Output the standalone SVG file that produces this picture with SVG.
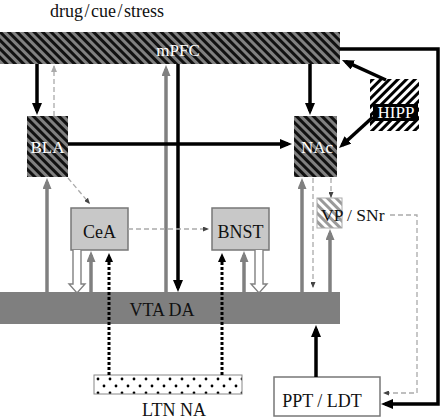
<svg xmlns="http://www.w3.org/2000/svg" width="444" height="420" viewBox="0 0 444 420">
<style>
text{font-family:"Liberation Serif","Times New Roman",serif;font-size:18px;fill:#111}
.w{fill:#fff}
.c{text-anchor:middle}
.bk{stroke:#000;stroke-width:3.5;fill:none}
.gr{stroke:#808080;stroke-width:3.5;fill:none}
.ds{stroke:#aaa;stroke-width:1.3;fill:none;stroke-dasharray:5 3}
.dt{stroke:#000;stroke-width:3;fill:none;stroke-dasharray:3 2}
.hol{fill:#fff;stroke:#808080;stroke-width:1.4}
</style>
<defs>
<pattern id="hatchD" width="6" height="6" patternUnits="userSpaceOnUse" patternTransform="rotate(-45)">
<rect width="6" height="6" fill="#808080"/><rect width="3" height="6" fill="#111"/>
</pattern>
<pattern id="hatchH" width="6" height="6" patternUnits="userSpaceOnUse" patternTransform="rotate(45)">
<rect width="6" height="6" fill="#fff"/><rect width="3" height="6" fill="#000"/>
</pattern>
<pattern id="hatchV" width="6" height="6" patternUnits="userSpaceOnUse" patternTransform="rotate(-45)">
<rect width="6" height="6" fill="#fff"/><rect width="3" height="6" fill="#9a9a9a"/>
</pattern>
<pattern id="dots" width="12" height="14" patternUnits="userSpaceOnUse" x="94" y="375">
<rect width="12" height="14" fill="#fff"/><circle cx="4" cy="4" r="1.4" fill="#000"/><circle cx="10" cy="11" r="1.4" fill="#000"/>
</pattern>
<marker id="ab" markerUnits="userSpaceOnUse" markerWidth="12" markerHeight="10" refX="8" refY="5" orient="auto"><path d="M0,0 L12,5 L0,10 z" fill="#000"/></marker>
<marker id="ag" markerUnits="userSpaceOnUse" markerWidth="11" markerHeight="9" refX="7" refY="4.5" orient="auto"><path d="M0,0 L11,4.5 L0,9 z" fill="#808080"/></marker>
<marker id="ad" markerUnits="userSpaceOnUse" markerWidth="9" markerHeight="8" refX="5" refY="4" orient="auto"><path d="M0,0 L9,4 L0,8 z" fill="#000"/></marker>
<marker id="as" markerUnits="userSpaceOnUse" markerWidth="6" markerHeight="5" refX="5" refY="2.5" orient="auto"><path d="M0,0 L6,2.5 L0,5 z" fill="#444"/></marker>
<marker id="al" markerUnits="userSpaceOnUse" markerWidth="7" markerHeight="6" refX="6" refY="3" orient="auto"><path d="M0,0 L7,3 L0,6 z" fill="#aaa"/></marker>
</defs>
<rect width="444" height="420" fill="#fff"/>
<text x="50" y="17" word-spacing="-3">drug / cue / stress</text>
<g id="mPFC"><rect x="0" y="32" width="340" height="32" fill="url(#hatchD)"/><text class="w c" x="178" y="56" style="font-size:17px">mPFC</text></g>
<g id="BLA"><rect x="27" y="116" width="41" height="61" fill="url(#hatchD)"/><text class="w c" x="47.5" y="153" style="font-size:17px">BLA</text></g>
<g id="NAc"><rect x="294" y="116" width="43" height="61" fill="url(#hatchD)"/><text class="w c" x="317" y="153" style="font-size:17px">NAc</text></g>
<g id="HIPP"><rect x="370" y="79" width="49" height="52" fill="url(#hatchH)"/><rect x="373" y="104" width="45" height="17" fill="#000"/><text class="w c" x="396" y="118" style="font-size:17px">HIPP</text></g>
<g id="CeA"><rect x="71" y="208" width="57" height="42" fill="#c8c8c8" stroke="#777" stroke-width="1.5"/><text class="c" x="99.5" y="238">CeA</text></g>
<g id="BNST"><rect x="212" y="208" width="57" height="42" fill="#c8c8c8" stroke="#777" stroke-width="1.5"/><text class="c" x="240.5" y="238">BNST</text></g>
<g id="VPSNr"><rect x="317" y="198" width="25" height="30" fill="url(#hatchV)" stroke="#aaa" stroke-width="1"/><text x="321" y="221" style="font-size:17.5px">VP / SNr</text></g>
<g id="VTA"><rect x="0" y="292" width="340" height="32" fill="#7f7f7f"/><text class="c" x="162" y="316">VTA DA</text></g>
<g id="LTN"><rect x="94" y="375" width="148" height="19" fill="url(#dots)" stroke="#888" stroke-width="1"/><text class="c" x="174" y="416">LTN NA</text></g>
<g id="PPT"><rect x="274" y="377" width="106" height="39" fill="#fff" stroke="#777" stroke-width="1.5"/><text class="c" x="322" y="407">PPT / LDT</text></g>
<g id="connectors">
<path class="bk" d="M37,64 V111" marker-end="url(#ab)"/>
<path class="ds" d="M54,116 V66" marker-end="url(#al)"/>
<path class="bk" d="M310,64 V111" marker-end="url(#ab)"/>
<path class="gr" d="M166,292 V69" marker-end="url(#ag)"/>
<path class="bk" d="M178,64 V288" marker-end="url(#ab)"/>
<path class="bk" d="M68,144 H288" marker-end="url(#ab)"/>
<path class="bk" d="M386,80 L345.6,61.7" marker-end="url(#ab)"/>
<path class="bk" d="M373,117 L342,145.3" marker-end="url(#ab)"/>
<path class="bk" d="M340,49 H438 V404 H385" marker-end="url(#ab)"/>
<path class="ds" d="M390,215 H417 V393 H384" marker-end="url(#as)"/>
<path class="gr" d="M47,292 V182" marker-end="url(#ag)"/>
<path class="ds" d="M68,178 L89.3,203.2" marker-end="url(#as)"/>
<path class="ds" d="M128,229 H208" marker-end="url(#as)"/>
<path class="hol" d="M73,250 V284 H69 L77,293 L85,284 H81 V250"/>
<path class="gr" d="M91,292 V255" marker-end="url(#ag)"/>
<path class="dt" d="M109,375 V257" marker-end="url(#ad)"/>
<path class="dt" d="M222,375 V257" marker-end="url(#ad)"/>
<path class="gr" d="M244,292 V255" marker-end="url(#ag)"/>
<path class="hol" d="M255,250 V284 H251 L259,293 L267,284 H263 V250"/>
<path class="gr" d="M302,292 V182" marker-end="url(#ag)"/>
<path class="ds" d="M313,178 V287" marker-end="url(#as)"/>
<path class="ds" d="M331,178 V197" marker-end="url(#as)"/>
<path class="gr" d="M330,292 V233" marker-end="url(#ag)"/>
<path class="bk" d="M316,377 V329" marker-end="url(#ab)"/>
</g>
</svg>
